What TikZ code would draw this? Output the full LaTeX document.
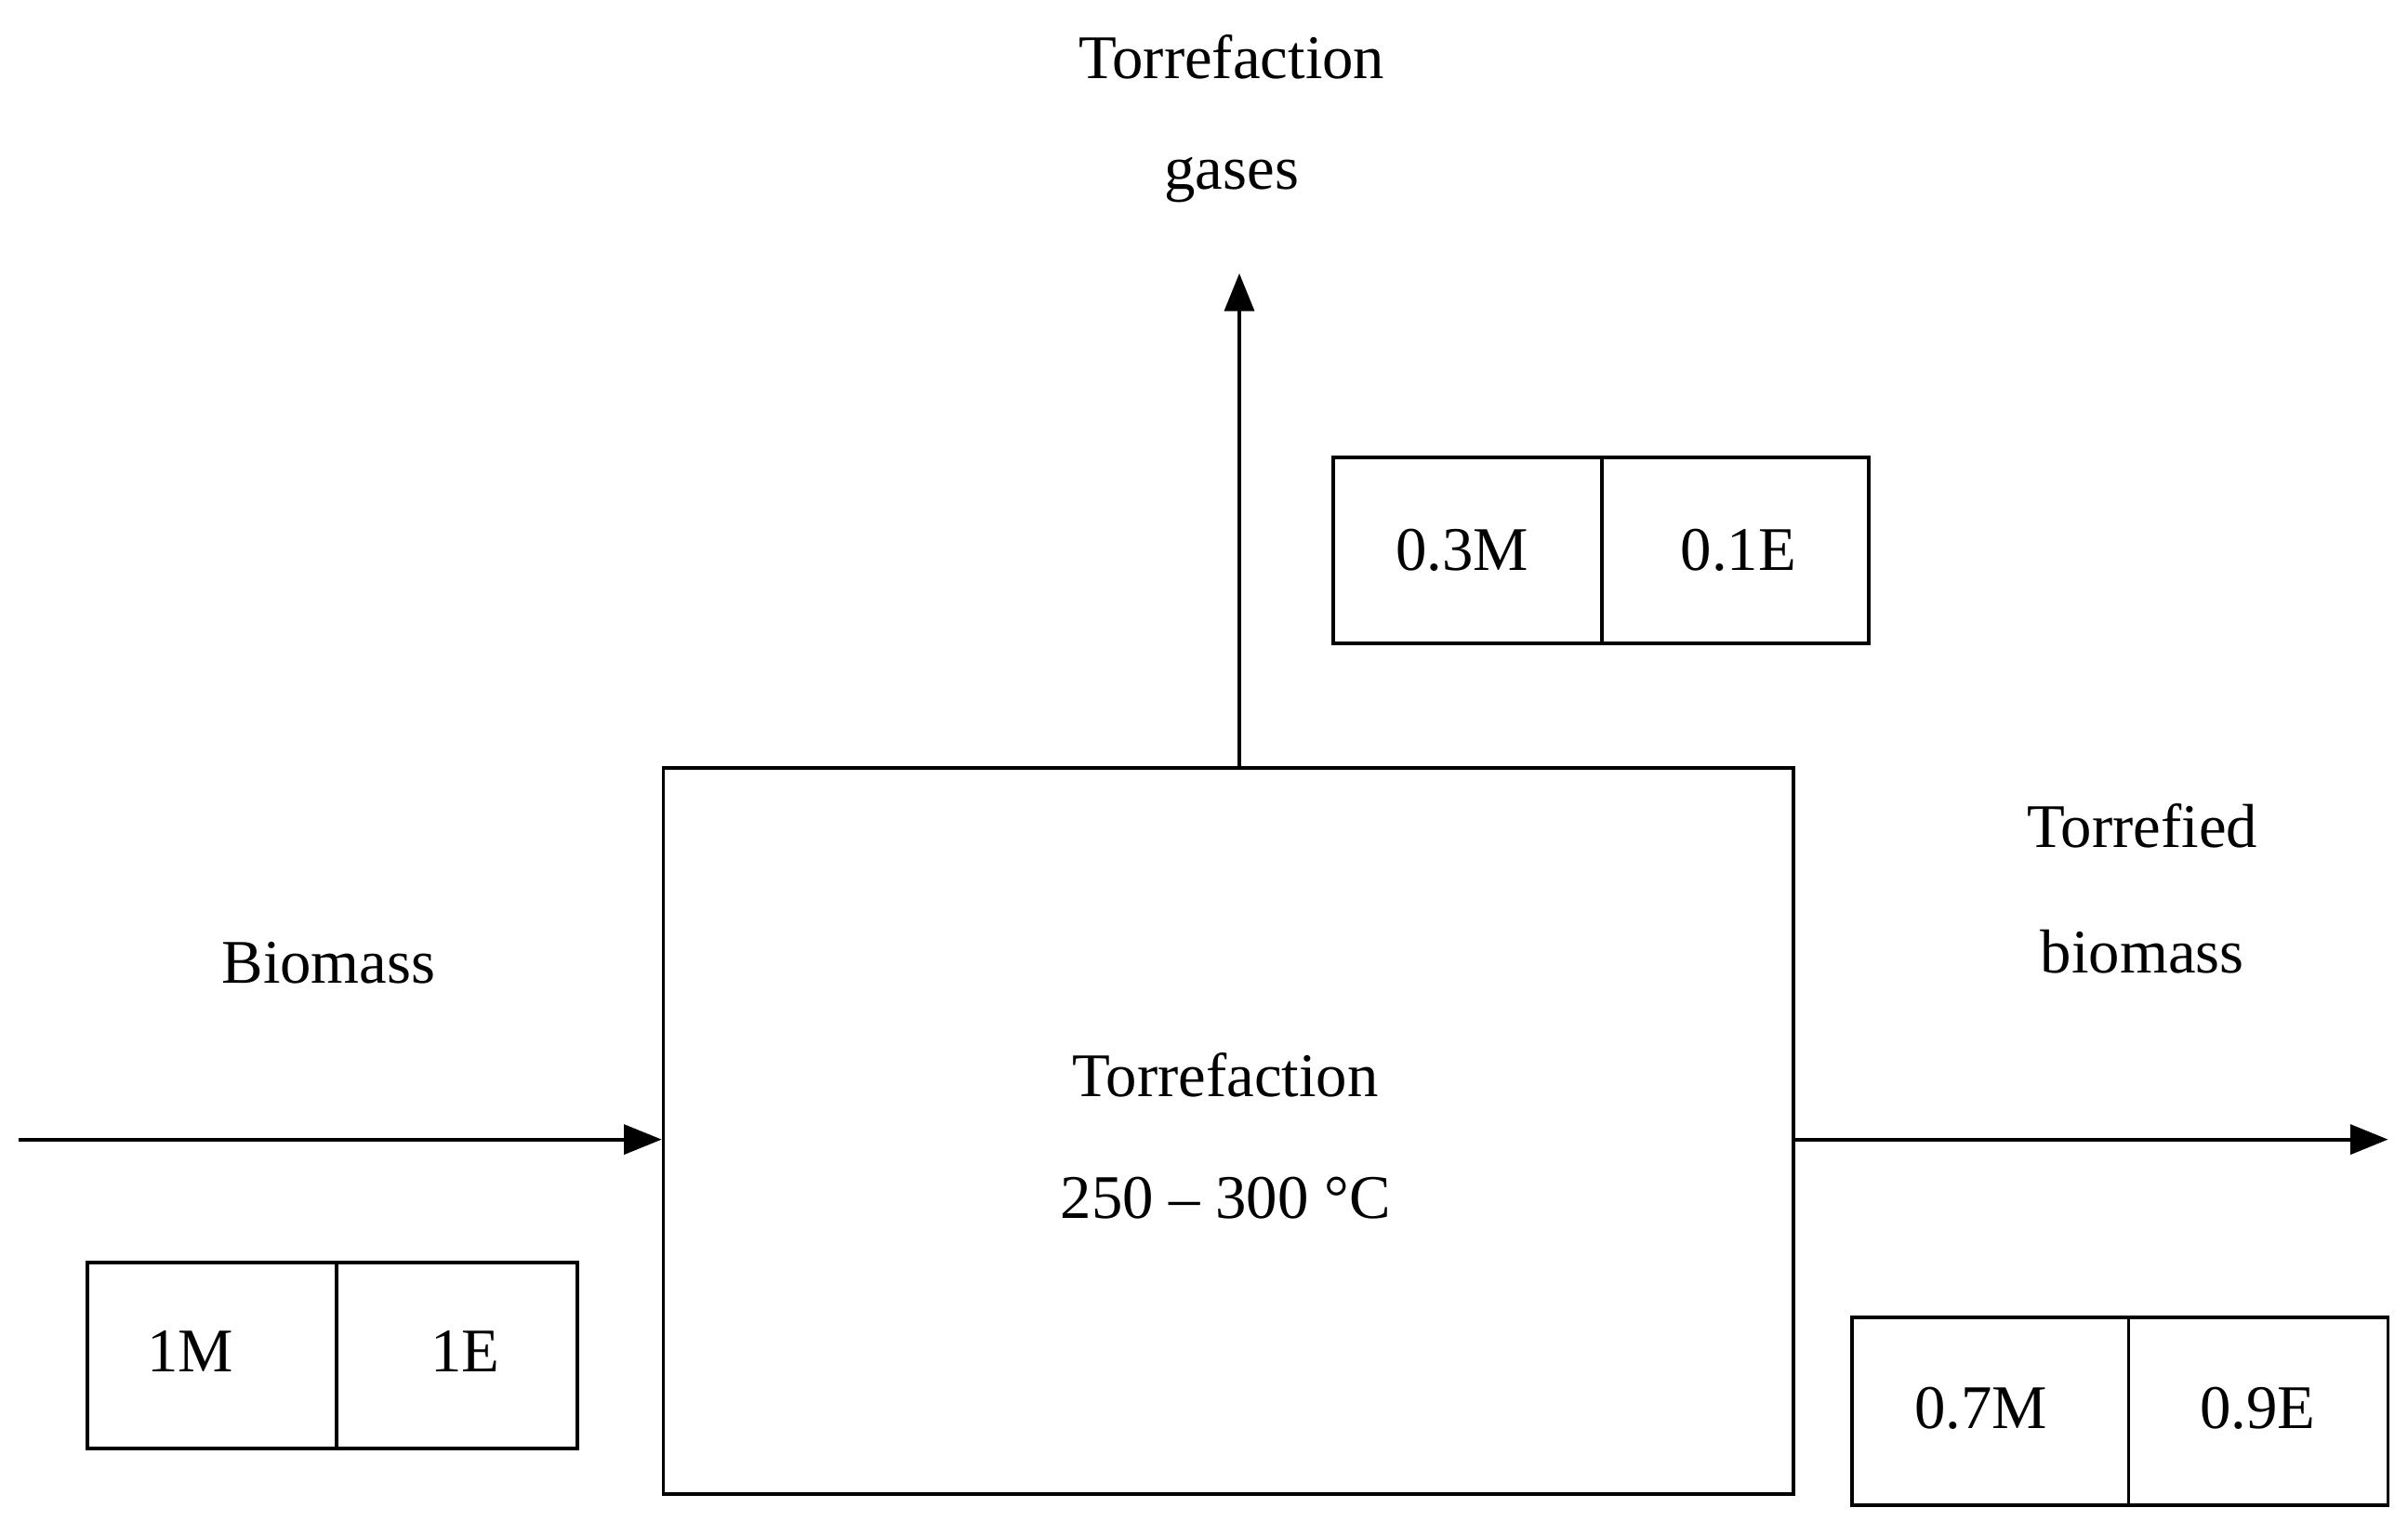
\documentclass[tikz,border=0pt]{standalone}
\usepackage{fontspec}
\setmainfont{Liberation Serif}
\usetikzlibrary{arrows.meta}
\begin{document}
\begin{tikzpicture}[x=0.02cm,y=-0.02cm,
  lbl/.style={font=\fontsize{23}{28}\selectfont, inner sep=0pt},
  box/.style={draw, line width=1.3pt, inner sep=0pt},
  flow/.style={line width=1.3pt, -{Triangle[length=14pt,width=11pt]}}]
\useasboundingbox (0,0) rectangle (1568,990);
% main box
\node[box, minimum width=736*0.02cm, minimum height=473*0.02cm] (main) at (800,736.5) {};
\node[lbl] (t1) at (798,700) {Torrefaction};
\node[lbl] (t2) at (798,780) {250 – 300 °C};
% input
\coordinate (in) at (12,742);
\draw[flow] (in) -- (main.west |- in);
\node[lbl] (bio) at (214,627) {Biomass};
\draw[box] (57,822) rectangle (376,943);
\draw[line width=1.3pt] (219,822) -- (219,943);
\node[lbl] (m1) at (124,880) {1M};
\node[lbl] (e1) at (303,880) {1E};
% output
\coordinate (out) at (1555,742);
\draw[flow] (main.east |- out) -- (out);
\node[lbl] (tb1) at (1395,538) {Torrefied};
\node[lbl] (tb2) at (1395,620) {biomass};
\draw[box] (1206,858) rectangle (1555,980);
\draw[line width=1.3pt] (1386,858) -- (1386,980);
\node[lbl] (m3) at (1290,917) {0.7M};
\node[lbl] (e3) at (1470,917) {0.9E};
% gases
\coordinate (up) at (807,178);
\draw[flow] (main.north -| up) -- (up);
\node[lbl] (g1) at (802,37) {Torrefaction};
\node[lbl] (g2) at (802,117) {gases};
\draw[box] (868,298) rectangle (1217,419);
\draw[line width=1.3pt] (1043,298) -- (1043,419);
\node[lbl] (m2) at (952,358) {0.3M};
\node[lbl] (e2) at (1132,358) {0.1E};
\end{tikzpicture}
\end{document}
